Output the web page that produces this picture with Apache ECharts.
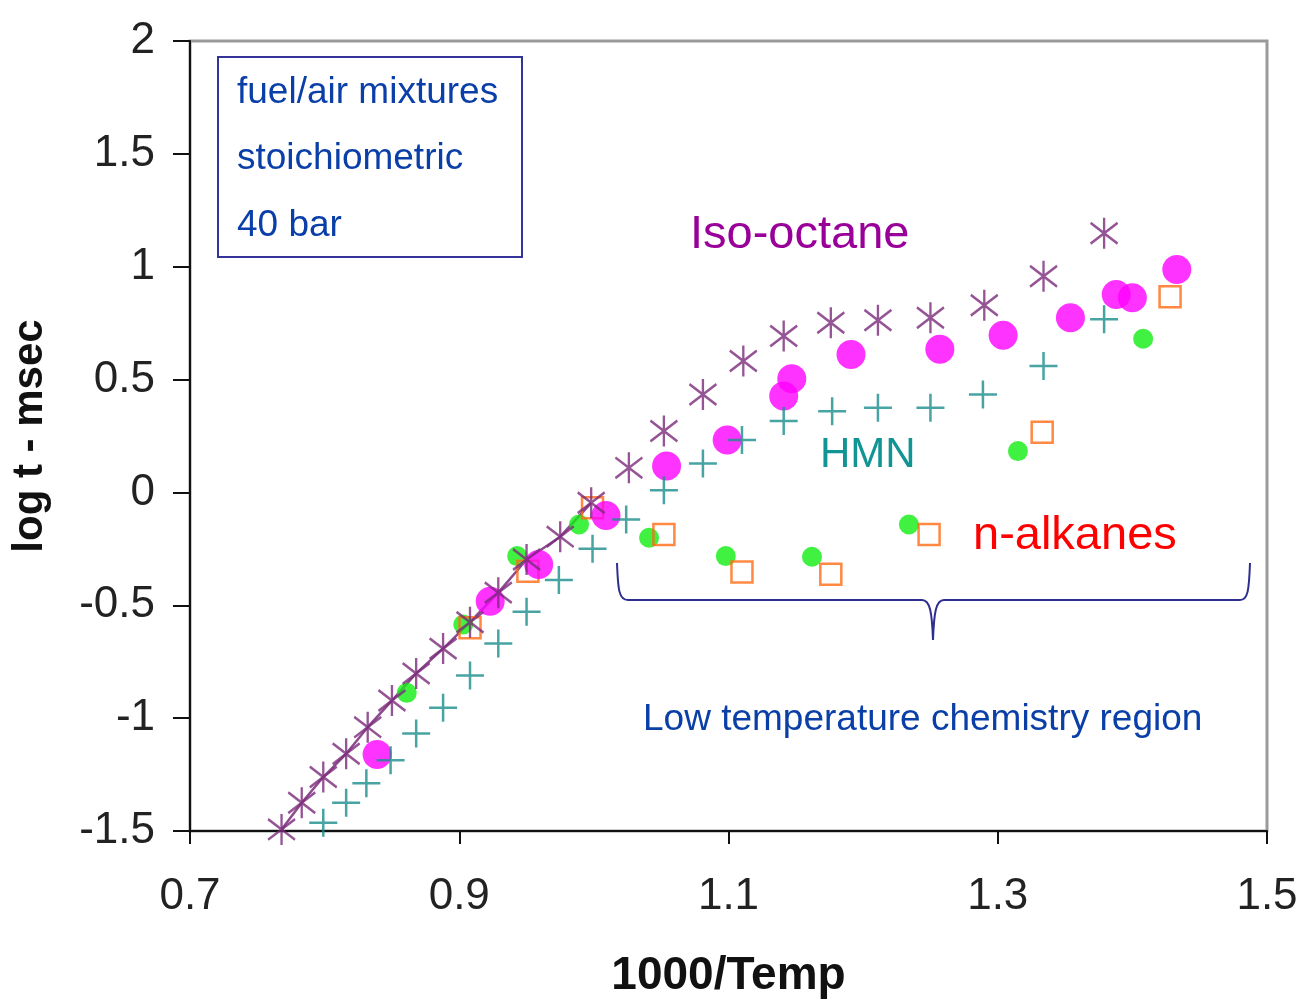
<!DOCTYPE html>
<html>
<head>
<meta charset="utf-8">
<style>
  html, body { margin: 0; padding: 0; background: #fff; }
  #chart { width: 1305px; height: 1001px; }
</style>
<script src="https://cdn.jsdelivr.net/npm/echarts@6/dist/echarts.min.js"></script>
</head>
<body>
<div id="chart"></div>
<script>
// ignition delay data: [1000/T, log t (ms)]
const isoOctane = [
  [0.768, -1.493], [0.783, -1.375], [0.799, -1.261], [0.816, -1.158], [0.832, -1.040],
  [0.850, -0.922], [0.868, -0.802], [0.888, -0.692], [0.908, -0.575], [0.929, -0.444],
  [0.950, -0.297], [0.975, -0.196], [0.998, -0.046], [1.026, 0.109], [1.052, 0.272],
  [1.081, 0.434], [1.111, 0.582], [1.141, 0.693], [1.176, 0.752], [1.211, 0.763],
  [1.250, 0.774], [1.290, 0.829], [1.334, 0.958], [1.379, 1.148]
]
// model line through the high temperature iso-octane points
const isoOctaneLine = isoOctane.slice(0, 13)
const magentaPts = [
  [0.839, -1.161], [0.923, -0.482], [0.959, -0.319], [1.009, -0.102], [1.054, 0.117],
  [1.099, 0.232], [1.141, 0.427], [1.147, 0.504], [1.191, 0.611], [1.257, 0.634],
  [1.304, 0.696], [1.354, 0.774], [1.388, 0.877], [1.400, 0.863], [1.433, 0.988]
]
const hmn = [
  [0.799, -1.464], [0.816, -1.375], [0.831, -1.289], [0.849, -1.186], [0.868, -1.068],
  [0.888, -0.954], [0.908, -0.811], [0.929, -0.669], [0.950, -0.529], [0.974, -0.388],
  [0.999, -0.250], [1.024, -0.120], [1.052, 0.010], [1.081, 0.128], [1.110, 0.232],
  [1.141, 0.316], [1.177, 0.360], [1.211, 0.375], [1.250, 0.375], [1.289, 0.434],
  [1.334, 0.560], [1.379, 0.767]
]
const greenPts = [
  [0.861, -0.888], [0.903, -0.585], [0.943, -0.282], [0.989, -0.142], [1.041, -0.201],
  [1.098, -0.282], [1.162, -0.285], [1.234, -0.142], [1.315, 0.183], [1.408, 0.681]
]
const orangePts = [
  [0.908, -0.600], [0.951, -0.349], [0.999, -0.068], [1.052, -0.186], [1.110, -0.353],
  [1.176, -0.363], [1.249, -0.186], [1.333, 0.267], [1.428, 0.867]
]
const xTicks = [0.7, 0.9, 1.1, 1.3, 1.5]
const boxLines = ['fuel/air mixtures', 'stoichiometric', '40 bar']

const FONT = '"Liberation Sans", Arial, sans-serif'
const starPath = 'path://M10,0 L10,24 M0,4 L20,20 M0,20 L20,4'
const plusPath = 'path://M12,0 L12,24 M0,12 L24,12'
const braceStyle = { fill: 'none', stroke: '#2e2e90', lineWidth: 2 }

function curve(x1, y1, cx1, cy1, cx2, cy2, x2, y2) {
  return {
    type: 'bezierCurve', z: 11,
    shape: { x1, y1, x2, y2, cpx1: cx1, cpy1: cy1, cpx2: cx2, cpy2: cy2 },
    style: braceStyle
  }
}
function seg(x1, y1, x2, y2) {
  return { type: 'line', z: 11, shape: { x1, y1, x2, y2 }, style: braceStyle }
}

const chart = echarts.init(document.getElementById('chart'))
const option = {
  animation: false,
  grid: {
    left: 190, right: 38, top: 41, bottom: 170,
    containLabel: false, outerBoundsMode: 'none',
    show: true, borderColor: '#9a9a9a', borderWidth: 3
  },
  xAxis: {
    type: 'value', min: 0.7, max: 1.5,
    name: '1000/Temp', nameLocation: 'middle', nameGap: 122,
    nameTextStyle: { fontFamily: FONT, fontSize: 46, fontWeight: 'bold', color: '#111' },
    axisLine: { onZero: false, lineStyle: { color: '#111', width: 2 } },
    axisTick: { length: 13, customValues: xTicks, lineStyle: { color: '#111', width: 2 } },
    axisLabel: {
      margin: 44, fontFamily: FONT, fontSize: 44, color: '#222',
      customValues: xTicks,
      formatter: v => v.toFixed(1)
    },
    splitLine: { show: false }
  },
  yAxis: {
    type: 'value', min: -1.5, max: 2, interval: 0.5,
    name: 'log t - msec', nameLocation: 'middle', nameGap: 139,
    nameTextStyle: { fontFamily: FONT, fontSize: 42, fontWeight: 'bold', color: '#111' },
    axisLine: { show: true, onZero: false, lineStyle: { color: '#111', width: 2 } },
    axisTick: { show: true, length: 17, lineStyle: { color: '#111', width: 2 } },
    axisLabel: { margin: 35, fontFamily: FONT, fontSize: 44, color: '#222' },
    splitLine: { show: false }
  },
  series: [
    {
      type: 'line', data: isoOctaneLine, showSymbol: false, z: 1,
      lineStyle: { color: '#8e4a8e', width: 2.5 }
    },
    {
      type: 'scatter', data: greenPts, symbol: 'circle', symbolSize: 20, z: 2,
      itemStyle: { color: '#11ee11' }
    },
    {
      type: 'scatter', data: orangePts, symbol: 'rect', symbolSize: 21, z: 3,
      itemStyle: { color: 'rgba(255,255,255,0)', borderColor: '#ff6a13', borderWidth: 2.5 }
    },
    {
      type: 'scatter', data: magentaPts, symbol: 'circle', symbolSize: 29, z: 4,
      itemStyle: { color: '#ff00ff' }
    },
    {
      type: 'scatter', data: isoOctane, symbol: starPath, symbolSize: [27, 31], z: 5,
      itemStyle: { color: 'none', borderColor: '#7a2a7a', borderWidth: 2.5 }
    },
    {
      type: 'scatter', data: hmn, symbol: plusPath, symbolSize: 28, z: 6,
      itemStyle: { color: 'none', borderColor: '#1a8c8c', borderWidth: 2.5 }
    }
  ],
  graphic: [
    {
      type: 'rect', x: 218, y: 57, z: 10,
      shape: { width: 304, height: 200 },
      style: { fill: '#fff', stroke: '#33339a', lineWidth: 2 }
    },
    ...boxLines.map((t, i) => ({
      type: 'text', x: 237, y: 74 + i * 66.5, z: 11,
      style: { text: t, font: '37px ' + FONT, fill: '#0a3fa8' }
    })),
    {
      type: 'text', x: 690, y: 212, z: 11,
      style: { text: 'Iso-octane', font: '47px ' + FONT, fill: '#990099' }
    },
    {
      type: 'text', x: 820, y: 434, z: 11,
      style: { text: 'HMN', font: '42px ' + FONT, fill: '#119494' }
    },
    {
      type: 'text', x: 973, y: 513, z: 11,
      style: { text: 'n-alkanes', font: '47px ' + FONT, fill: '#ff0000' }
    },
    {
      type: 'text', x: 643, y: 701, z: 11,
      style: { text: 'Low temperature chemistry region', font: '37px ' + FONT, fill: '#0a3fa8' }
    },
    curve(617, 563, 618, 590, 619, 600, 628, 600),
    seg(628, 600, 922, 600),
    curve(922, 600, 930, 600, 932, 612, 933, 640),
    curve(933, 640, 934, 612, 936, 600, 944, 600),
    seg(944, 600, 1240, 600),
    curve(1240, 600, 1248, 600, 1249, 590, 1250, 563)
  ]
}
chart.setOption(option)
</script>
</body>
</html>
